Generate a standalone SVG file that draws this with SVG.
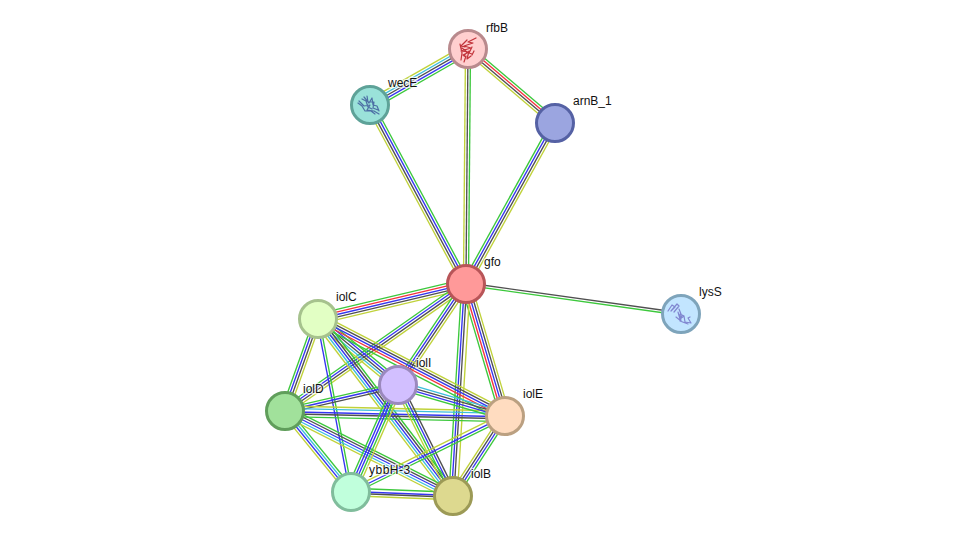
<svg xmlns="http://www.w3.org/2000/svg" width="975" height="541" viewBox="0 0 975 541">
<style>
text{font-family:"Liberation Sans",Arial,sans-serif;font-size:12px;fill:#111;stroke:#fff;stroke-width:2.5px;stroke-opacity:.7;paint-order:stroke;}
#edges line{stroke-width:1.35;fill:none;}
.g{stroke:#3cc83c;}
.r{stroke:#f5323c;}
.k{stroke:#505050;}
.y{stroke:#c0d23a;}
.b{stroke:#3535f0;}
.c{stroke:#3cbedc;}
.n{stroke-width:3;}
.fold{fill:none;stroke-width:1.2;stroke-linecap:round;stroke-linejoin:round;}
</style>
<rect width="975" height="541" fill="#fff"/>
<g id="edges">
<!-- wecE to rfbB -->
<g transform="translate(370 105) rotate(-29.74)"><line class="y" x2="113" y1="-5" y2="-5"/><line class="c" x2="113" y1="-2.5" y2="-2.5"/><line class="k" x2="113"/><line class="b" x2="113" y1="2.5" y2="2.5"/><line class="g" x2="113" y1="5" y2="5"/></g>
<!-- rfbB to arnB_1 -->
<g transform="translate(468 49) rotate(40.4)"><line class="g" x2="114" y1="-3.75" y2="-3.75"/><line class="r" x2="114" y1="-1.25" y2="-1.25"/><line class="k" x2="114" y1="1.25" y2="1.25"/><line class="y" x2="114" y1="3.75" y2="3.75"/></g>
<!-- rfbB to gfo -->
<g transform="translate(468 49) rotate(90.5)"><line class="g" x2="235" y1="-2.5" y2="-2.5"/><line class="k" x2="235"/><line class="y" x2="235" y1="2.5" y2="2.5"/></g>
<!-- wecE to gfo -->
<g transform="translate(370 105) rotate(61.8)"><line class="g" x2="203" y1="-3.75" y2="-3.75"/><line class="b" x2="203" y1="-1.25" y2="-1.25"/><line class="k" x2="203" y1="1.25" y2="1.25"/><line class="y" x2="203" y1="3.75" y2="3.75"/></g>
<!-- gfo to arnB_1 -->
<g transform="translate(466 284) rotate(-61.07)"><line class="g" x2="184" y1="-3.75" y2="-3.75"/><line class="b" x2="184" y1="-1.25" y2="-1.25"/><line class="k" x2="184" y1="1.25" y2="1.25"/><line class="y" x2="184" y1="3.75" y2="3.75"/></g>
<!-- gfo to lysS -->
<g transform="translate(466 284) rotate(7.94)"><line class="k" x2="217" y1="-1.25" y2="-1.25"/><line class="g" x2="217" y1="1.25" y2="1.25"/></g>
<!-- iolC to gfo -->
<g transform="translate(318 319) rotate(-13.3)"><line class="g" x2="152" y1="-5" y2="-5"/><line class="r" x2="152" y1="-2.5" y2="-2.5"/><line class="b" x2="152"/><line class="k" x2="152" y1="2.5" y2="2.5"/><line class="y" x2="152" y1="5" y2="5"/></g>
<!-- iolD to gfo -->
<g transform="translate(285 411) rotate(-35.06)"><line class="g" x2="221" y1="-3.75" y2="-3.75"/><line class="b" x2="221" y1="-1.25" y2="-1.25"/><line class="k" x2="221" y1="1.25" y2="1.25"/><line class="y" x2="221" y1="3.75" y2="3.75"/></g>
<!-- iolI to gfo -->
<g transform="translate(398 385) rotate(-56.05)"><line class="g" x2="122" y1="-3.75" y2="-3.75"/><line class="b" x2="122" y1="-1.25" y2="-1.25"/><line class="k" x2="122" y1="1.25" y2="1.25"/><line class="y" x2="122" y1="3.75" y2="3.75"/></g>
<!-- gfo to iolE -->
<g transform="translate(466 284) rotate(73.54)"><line class="g" x2="138" y1="5" y2="5"/><line class="r" x2="138" y1="2.5" y2="2.5"/><line class="b" x2="138"/><line class="k" x2="138" y1="-2.5" y2="-2.5"/><line class="y" x2="138" y1="-5" y2="-5"/></g>
<!-- gfo to iolB -->
<g transform="translate(466 284) rotate(93.5)"><line class="g" x2="212" y1="4.2" y2="4.2"/><line class="b" x2="212" y1="1.6" y2="1.6"/><line class="k" x2="212" y1="-.8" y2="-.8"/><line class="y" x2="212" y1="-4.2" y2="-4.2"/></g>
<!-- iolC to iolI -->
<g transform="translate(318 319) rotate(39.5)"><line class="g" x2="104" y1="-5" y2="-5"/><line class="b" x2="104" y1="-2.5" y2="-2.5"/><line class="k" x2="104"/><line class="c" x2="104" y1="2.5" y2="2.5"/><line class="y" x2="104" y1="5" y2="5"/></g>
<!-- iolC to iolE -->
<g transform="translate(318 319) rotate(27.4)"><line class="y" x2="211" y1="-5.5" y2="-5.5"/><line class="k" x2="211" y1="-3" y2="-3"/><line class="b" x2="211" y1="-.5" y2="-.5"/><line class="r" x2="211" y1="2" y2="2"/><line class="g" x2="211" y1="5" y2="5"/></g>
<!-- iolD to iolC -->
<g transform="translate(285 411) rotate(-70.3)"><line class="g" x2="98" y1="-3.75" y2="-3.75"/><line class="b" x2="98" y1="-1.25" y2="-1.25"/><line class="k" x2="98" y1="1.25" y2="1.25"/><line class="y" x2="98" y1="3.75" y2="3.75"/></g>
<!-- iolC to ybbH-3 -->
<g transform="translate(318 319) rotate(79.2)"><line class="g" x2="176" y1="-1.25" y2="-1.25"/><line class="b" x2="176" y1="1.25" y2="1.25"/></g>
<!-- iolC to iolB -->
<g transform="translate(318 319) rotate(52.66)"><line class="g" x2="223" y1="-5" y2="-5"/><line class="k" x2="223" y1="-2.5" y2="-2.5"/><line class="b" x2="223"/><line class="c" x2="223" y1="2.5" y2="2.5"/><line class="y" x2="223" y1="5" y2="5"/></g>
<!-- iolD to iolI -->
<g transform="translate(285 411) rotate(-12.96)"><line class="g" x2="116" y1="-2.5" y2="-2.5"/><line class="b" x2="116"/><line class="k" x2="116" y1="2.5" y2="2.5"/></g>
<!-- iolD to iolE -->
<g transform="translate(285 411) rotate(1.3)"><line class="y" x2="220" y1="-5" y2="-5"/><line class="c" x2="220" y1="-2.6" y2="-2.6"/><line class="b" x2="220" y1=".8" y2=".8"/><line class="k" x2="220" y1="2.8" y2="2.8"/><line class="g" x2="220" y1="5.6" y2="5.6"/></g>
<!-- iolD to ybbH-3 -->
<g transform="translate(285 411) rotate(50.8)"><line class="g" x2="104" y1="-3.75" y2="-3.75"/><line class="c" x2="104" y1="-1.25" y2="-1.25"/><line class="b" x2="104" y1="1.25" y2="1.25"/><line class="y" x2="104" y1="3.75" y2="3.75"/></g>
<!-- iolD to iolB -->
<g transform="translate(285 411) rotate(26.8)"><line class="g" x2="188" y1="-5" y2="-5"/><line class="k" x2="188" y1="-2.5" y2="-2.5"/><line class="b" x2="188"/><line class="c" x2="188" y1="2.5" y2="2.5"/><line class="y" x2="188" y1="5" y2="5"/></g>
<!-- iolI to iolE -->
<g transform="translate(398 385) rotate(16.16)"><line class="c" x2="111" y1="-3.75" y2="-3.75"/><line class="k" x2="111" y1="-1.25" y2="-1.25"/><line class="b" x2="111" y1="1.25" y2="1.25"/><line class="g" x2="111" y1="3.75" y2="3.75"/></g>
<!-- iolI to iolB -->
<g transform="translate(398 385) rotate(63.6)"><line class="k" x2="124" y1="-3.75" y2="-3.75"/><line class="b" x2="124" y1="-1.25" y2="-1.25"/><line class="g" x2="124" y1="1.25" y2="1.25"/><line class="y" x2="124" y1="3.75" y2="3.75"/></g>
<!-- ybbH-3 to iolI -->
<g transform="translate(351 492) rotate(-66.3)"><line class="g" x2="117" y1="-5" y2="-5"/><line class="b" x2="117" y1="-2.5" y2="-2.5"/><line class="b" x2="117"/><line class="g" x2="117" y1="2.5" y2="2.5"/><line class="y" x2="117" y1="5" y2="5"/></g>
<!-- iolB to iolE -->
<g transform="translate(453 496) rotate(-57)"><line class="y" x2="95" y1="-3.75" y2="-3.75"/><line class="k" x2="95" y1="-1.25" y2="-1.25"/><line class="b" x2="95" y1="1.25" y2="1.25"/><line class="g" x2="95" y1="3.75" y2="3.75"/></g>
<!-- ybbH-3 to iolE -->
<g transform="translate(351 492) rotate(-26.3)"><line class="y" x2="172" y1="-3" y2="-3"/><line class="b" x2="172" y1="0" y2="0"/><line class="g" x2="172" y1="2.5" y2="2.5"/></g>
<!-- ybbH-3 to iolB -->
<g transform="translate(351 492) rotate(2.25)"><line class="g" x2="102" y1="-3.75" y2="-3.75"/><line class="b" x2="102" y1="-.5" y2="-.5"/><line class="k" x2="102" y1="1.25" y2="1.25"/><line class="y" x2="102" y1="3.75" y2="3.75"/></g>
</g>
<g id="node-rfbB"><circle class="n" cx="468" cy="49" r="18.5" fill="#ffcfcf" stroke="#b98a8d"/>
<path class="fold" stroke="#c2333a" d="M476 38l-8 4 5 1-9 3 7 2-10 3 8 1-6 3 3 2M460 44l2 9-1 7M469 51l-2 8 4-3M467 40l-6 6 4 1M462 48l5 4-3 4M472 47l-3 6 3 1M466 56l-2 6M474 51l-2 4"/></g>
<g id="node-wecE"><circle class="n" cx="370" cy="105" r="18.5" fill="#9ae2d9" stroke="#5ea298"/>
<path class="fold" stroke="#4d6fa5" d="M359 101l5 5 6-1-3 5 7 1 5 3M364 97l5 6 3-5 1 7 4 1 2 5M358 103l4 3 3 5 6 0 4 3M362 99l4 2 2 6 4 2M367 96l1 6 6 0-1 6 5 2"/></g>
<g id="node-arnB_1"><circle class="n" cx="555" cy="123" r="18.5" fill="#9ba5e0" stroke="#5561a4"/></g>
<g id="node-gfo"><circle class="n" cx="466" cy="284" r="18.5" fill="#ff9999" stroke="#b85558"/></g>
<g id="node-lysS"><circle class="n" cx="681" cy="314" r="18.5" fill="#c2e5ff" stroke="#7ea4bb"/>
<path class="fold" stroke="#8086d0" d="M668 311l4-6 3 2-4 4 6-7 2 2-5 6M678 312l2 7 4-3 1 6 6 1-3-5 2-1M676 317l5 4-1-7 4 2M682 315l-2 6 8 3M679 309l2 5"/></g>
<g id="node-iolC"><circle class="n" cx="318" cy="319" r="18.5" fill="#e2ffc4" stroke="#a6c28d"/></g>
<g id="node-iolI"><circle class="n" cx="398" cy="385" r="18.5" fill="#d2bfff" stroke="#9b89bd"/></g>
<g id="node-iolD"><circle class="n" cx="285" cy="411" r="18.5" fill="#a1e19b" stroke="#609e5b"/></g>
<g id="node-iolE"><circle class="n" cx="505" cy="416" r="18.5" fill="#ffdcc0" stroke="#bba081"/></g>
<g id="node-ybbH-3"><circle class="n" cx="351" cy="492" r="18.5" fill="#c0ffdc" stroke="#80bd9c"/></g>
<g id="node-iolB"><circle class="n" cx="453" cy="496" r="18.5" fill="#ddd98f" stroke="#9c9a56"/></g>
<g id="labels">
<text x="486" y="32">rfbB</text>
<text x="388" y="87">wecE</text>
<text x="573" y="105">arnB_1</text>
<text x="484" y="266">gfo</text>
<text x="699" y="296">lysS</text>
<text x="336" y="301">iolC</text>
<text x="416" y="367">iolI</text>
<text x="303" y="393">iolD</text>
<text x="523" y="398">iolE</text>
<text x="369" y="474" letter-spacing=".5">ybbH-3</text>
<text x="471" y="478">iolB</text>
</g>
</svg>
